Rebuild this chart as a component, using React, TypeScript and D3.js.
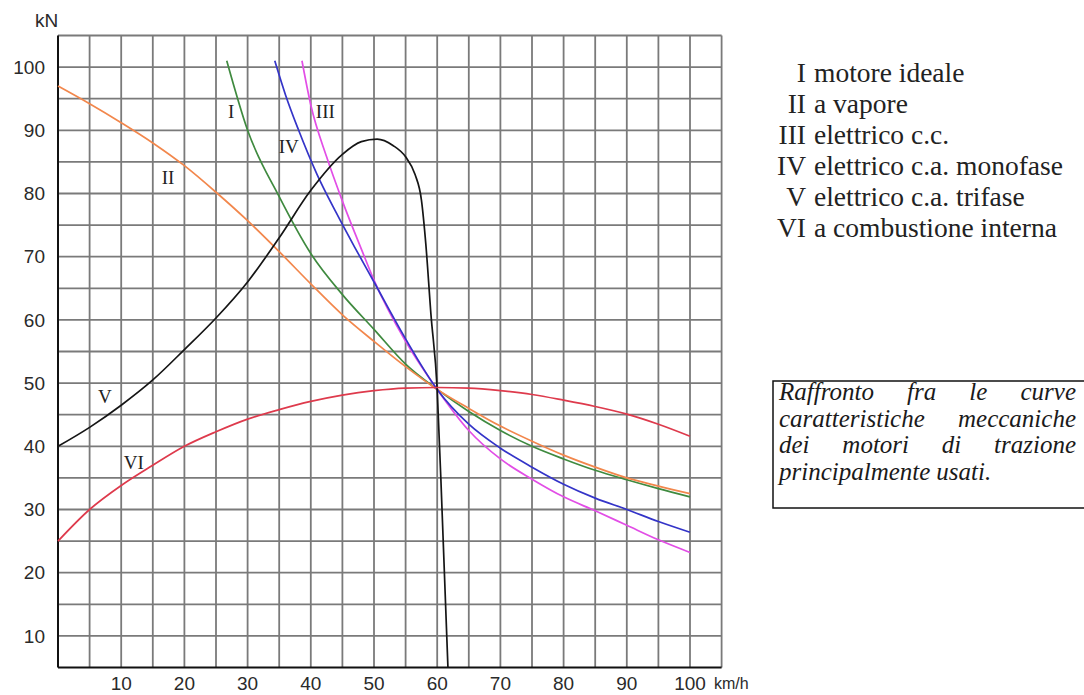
import React, { useEffect, useRef } from "react";
import * as d3 from "d3";

// ---- data (km/h -> kN) ----
const speedI = [26.7, 30, 35, 40, 45, 50, 55, 60, 65, 70, 75, 80, 85, 90, 95, 100];
const forceI = [101, 90, 79.5, 70.5, 64, 58.5, 53, 49, 45.5, 42.5, 40, 38, 36.2, 34.7, 33.3, 32];

const speedII = [0, 5, 10, 15, 20, 25, 30, 35, 40, 45, 50, 55, 60, 65, 70, 75, 80, 85, 90, 95, 100];
const forceII = [97, 94.2, 91.2, 88, 84.4, 80.2, 75.7, 70.8, 65.7, 60.8, 56.6, 52.6, 49, 46, 43.2, 40.8, 38.6, 36.7, 35, 33.7, 32.5];

const speedIII = [38.6, 40, 42.5, 45, 48, 50, 55, 60, 65, 70, 75, 80, 85, 90, 95, 100];
const forceIII = [101, 94, 85.8, 78.8, 71.2, 66.3, 56.6, 49, 42.5, 38, 34.8, 32, 29.8, 27.5, 25.2, 23.2];

const speedIV = [34.3, 36, 38, 41, 44, 47, 50, 55, 60, 65, 70, 75, 80, 85, 90, 95, 100];
const forceIV = [101, 95.6, 90.2, 83, 77, 71.4, 66, 57, 49, 43.5, 39.7, 36.7, 34, 31.8, 30, 28.1, 26.4];

const speedV = [0, 5, 10, 15, 20, 25, 30, 35, 40, 45, 48, 50.5, 53, 55, 56.5, 57.5, 58.2, 59, 60, 60.8, 61.7];
const forceV = [40, 43, 46.5, 50.5, 55.3, 60.3, 66, 73, 80.5, 86.2, 88.2, 88.6, 87.6, 85.8, 83, 79, 72, 61, 49, 29, 5];

const speedVI = [0, 5, 10, 15, 20, 25, 30, 35, 40, 45, 50, 55, 60, 65, 70, 75, 80, 85, 90, 95, 100];
const forceVI = [25, 30, 33.8, 37, 40, 42.3, 44.3, 45.8, 47.1, 48.1, 48.8, 49.2, 49.3, 49.2, 48.8, 48.2, 47.3, 46.3, 45.1, 43.5, 41.6];

const xTicks = [10, 20, 30, 40, 50, 60, 70, 80, 90, 100];
const yTicks = [10, 20, 30, 40, 50, 60, 70, 80, 90, 100];

const seriesIds = ["I", "II", "III", "IV", "V", "VI"];
const legendLabels = [
  "motore ideale",
  "a vapore",
  "elettrico c.c.",
  "elettrico c.a. monofase",
  "elettrico c.a. trifase",
  "a combustione interna",
];
const captionLines = [
  "Raffronto fra le curve",
  "caratteristiche meccaniche",
  "dei motori di trazione",
  "principalmente usati.",
];

const seriesData = [
  { id: "I", speed: speedI, force: forceI, color: "#3f8a3f" },
  { id: "II", speed: speedII, force: forceII, color: "#f2874c" },
  { id: "III", speed: speedIII, force: forceIII, color: "#e24ee6" },
  { id: "IV", speed: speedIV, force: forceIV, color: "#3434c8" },
  { id: "V", speed: speedV, force: forceV, color: "#151515" },
  { id: "VI", speed: speedVI, force: forceVI, color: "#de3a4c" },
];

const W = 1084;
const H = 695;
const SERIF = "'Liberation Serif', 'Times New Roman', 'DejaVu Serif', serif";
const SANS = "'Liberation Sans', Arial, sans-serif";

export default function App() {
  const capRef = useRef<SVGGElement | null>(null);

  const x = d3.scaleLinear().domain([0, 105]).range([58, 721.6]);
  const y = d3.scaleLinear().domain([5, 105]).range([667.5, 35.5]);

  const gridX = d3.range(5, 106, 5);
  const gridY = d3.range(10, 106, 5);

  const line = d3
    .line<[number, number]>()
    .x((d) => x(d[0]))
    .y((d) => y(d[1]))
    .curve(d3.curveMonotoneX);

  useEffect(() => {
    const g = d3.select(capRef.current);
    g.selectAll("*").remove();
    const left = 779;
    const right = 1076;
    const top = 400;
    const lh = 26.7;
    captionLines.forEach((ln, i) => {
      const words = ln.split(" ");
      const texts = words.map((w) =>
        g
          .append("text")
          .attr("y", top + i * lh)
          .attr("font-family", SERIF)
          .attr("font-style", "italic")
          .attr("font-size", 25)
          .attr("fill", "#1a1a1a")
          .text(w)
      );
      const widths = texts.map((t) => (t.node() as SVGTextElement).getComputedTextLength());
      const total = d3.sum(widths);
      const justify = i < captionLines.length - 1 && words.length > 1;
      const gap = justify ? (right - left - total) / (words.length - 1) : 6;
      let cx = left;
      texts.forEach((t, k) => {
        t.attr("x", cx);
        cx += widths[k] + gap;
      });
    });
  }, []);

  return (
    <svg
      width={W}
      height={H}
      style={{ position: "absolute", left: 0, top: 0, background: "#fff" }}
    >
      <rect x={0} y={0} width={W} height={H} fill="#fff" />
      {/* grid */}
      <g stroke="#7a7a7a" strokeWidth={1.8}>
        {gridX.map((v) => (
          <line key={"gx" + v} x1={x(v)} x2={x(v)} y1={y(105)} y2={y(5)} />
        ))}
        {gridY.map((v) => (
          <line key={"gy" + v} x1={x(0)} x2={x(105)} y1={y(v)} y2={y(v)} />
        ))}
      </g>
      {/* axes */}
      <line x1={x(0)} x2={x(0)} y1={y(105)} y2={y(5)} stroke="#111" strokeWidth={2} />
      <line x1={x(0)} x2={x(105)} y1={y(5)} y2={y(5)} stroke="#111" strokeWidth={2} />

      {/* tick labels */}
      <g fontFamily={SANS} fontSize={19} fill="#2a2a2a">
        {xTicks.map((v) => (
          <text key={"xt" + v} x={x(v)} y={690} textAnchor="middle">
            {v}
          </text>
        ))}
        {yTicks.map((v) => (
          <text key={"yt" + v} x={45} y={y(v)} dy="0.35em" textAnchor="end">
            {v}
          </text>
        ))}
        <text x={35} y={27}>kN</text>
        <text x={714} y={689} fontSize={16}>km/h</text>
      </g>

      {/* curves */}
      <g fill="none" strokeWidth={1.7}>
        {seriesData.map((s) => (
          <path
            key={s.id}
            d={line(s.speed.map((v, i) => [v, s.force[i]] as [number, number])) || ""}
            stroke={s.color}
          />
        ))}
      </g>

      {/* curve labels */}
      <g fontFamily={SERIF} fontSize={19} fill="#222" textAnchor="middle">
        <text x={x(27.4)} y={y(93)} dy="0.35em">I</text>
        <text x={x(17.4)} y={y(82.6)} dy="0.35em">II</text>
        <text x={x(42.3)} y={y(93)} dy="0.35em">III</text>
        <text x={x(36.5)} y={y(87.4)} dy="0.35em">IV</text>
        <text x={x(7.4)} y={y(47.9)} dy="0.35em">V</text>
        <text x={x(12)} y={y(37.4)} dy="0.35em">VI</text>
      </g>

      {/* legend */}
      <g fontFamily={SERIF} fontSize={27.5} fill="#222">
        {seriesIds.map((id, i) => (
          <g key={"lg" + id}>
            <text x={806} y={73 + i * 31} dy="0.33em" textAnchor="end">
              {id}
            </text>
            <text x={814} y={73 + i * 31} dy="0.33em">
              {legendLabels[i]}
            </text>
          </g>
        ))}
      </g>

      {/* caption box */}
      <rect x={773} y={381} width={330} height={127} fill="none" stroke="#111" strokeWidth={1.5} />
      <g ref={capRef} />
    </svg>
  );
}
